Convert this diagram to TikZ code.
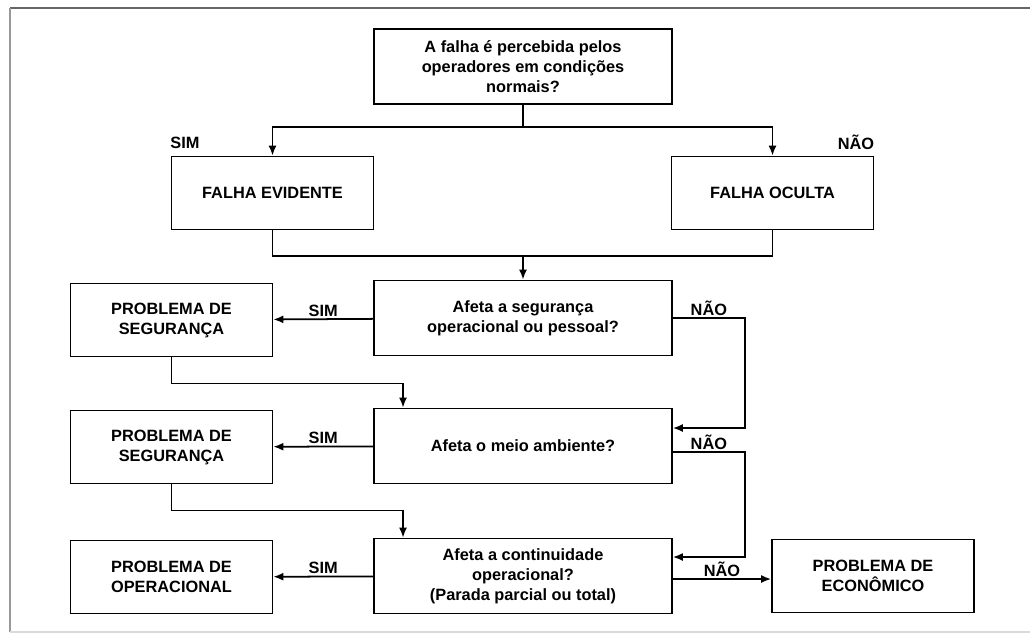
\documentclass[tikz,border=0pt]{standalone}
\usepackage{fontspec}
\setmainfont{Liberation Sans}
\usetikzlibrary{positioning,calc,arrows.meta}

\begin{document}
\begin{tikzpicture}[
        x=0.02cm, y=-0.02cm,
        every node/.style={font=\bfseries\fontsize{9.3}{11.4}\selectfont},
        question/.style={rectangle, draw=black, line width=1pt, fill=white, minimum width=5.96cm, minimum height=1.5cm, align=center, inner sep=2pt},
        outcome/.style={rectangle, draw=black, line width=1pt, fill=white, minimum width=4.04cm, minimum height=1.46cm, align=center, inner sep=2pt},
        arrow/.style={-{Latex[length=2mm,width=1.6mm]}, line width=1pt, draw=black},
        link/.style={line width=1pt, draw=black},
        badge/.style={inner sep=1pt}
        ]

        % Page size and the open frame of the scan
        \useasboundingbox (0,0) rectangle (1030,633);
        \draw[black!60, line width=1.2pt] (1030,8) -- (10,8);
        \draw[black!40, line width=0.8pt] (10,8) -- (10,632);
        \draw[black!15, line width=0.8pt] (10,632) -- (1030,632);

        % Question boxes in the middle column
        \node[question] (percebida) at (523,66.5) {A falha é percebida pelos\\operadores em condições\\normais?};
        \node[question] (seguranca) at (523,318) {Afeta a segurança\\operacional ou pessoal?};
        \node[question] (ambiente) at (523,446) {Afeta o meio ambiente?};
        \node[question] (continuidade) at (523,576) {Afeta a continuidade\\operacional?\\(Parada parcial ou total)};

        % Outcome boxes
        \node[outcome] (evidente) at (272.5,193) {FALHA EVIDENTE};
        \node[outcome] (oculta) at (772.5,193) {FALHA OCULTA};
        \node[outcome] (probseg) at (171.5,320) {PROBLEMA DE\\SEGURANÇA};
        \node[outcome] (probamb) at (171.5,447) {PROBLEMA DE\\SEGURANÇA};
        \node[outcome] (proboper) at (171.5,577) {PROBLEMA DE\\OPERACIONAL};
        \node[outcome] (probecon) at (873,576) {PROBLEMA DE\\ECONÔMICO};

        % Split after the first question
        \coordinate (split) at (523,127);
        \draw[link] (percebida) -- (split);
        \draw[arrow] (split) -| (evidente);
        \draw[arrow] (split) -| (oculta);
        \node[badge] (simtop) at (185,143) {SIM};
        \node[badge] (naotop) at (856,142) {NÃO};

        % Both kinds of failure join again
        \coordinate (join) at (523,256);
        \draw[link] (evidente) |- (join) -| (oculta);
        \draw[arrow] (join) -- (seguranca);

        % SIM branches to the left
        \draw[arrow] (seguranca) -- node[above, badge] {SIM} (probseg);
        \draw[arrow] (ambiente) -- node[above, badge] {SIM} (probamb);
        \draw[arrow] (continuidade) -- node[above, badge] {SIM} (proboper);

        % Back from the outcomes to the next question
        \draw[arrow] (probseg.south) -- ++(0,26) -| ([xshift=-2.4cm]ambiente.north);
        \draw[arrow] (probamb.south) -- ++(0,26) -| ([xshift=-2.4cm]continuidade.north);

        % NÃO branches on the right
        \draw[arrow] (seguranca.east) -- node[above, badge] {NÃO} ++(72,0) |- ([yshift=0.36cm]ambiente.east);
        \draw[arrow] ([yshift=-0.12cm]ambiente.east) -- node[above, badge] {NÃO} ++(72,0) |- ([yshift=0.38cm]continuidade.east);
        \draw[arrow] ([yshift=-0.06cm]continuidade.east) -- node[above, badge] {NÃO} ([yshift=-0.06cm]probecon.west);

    \end{tikzpicture}
\end{document}
